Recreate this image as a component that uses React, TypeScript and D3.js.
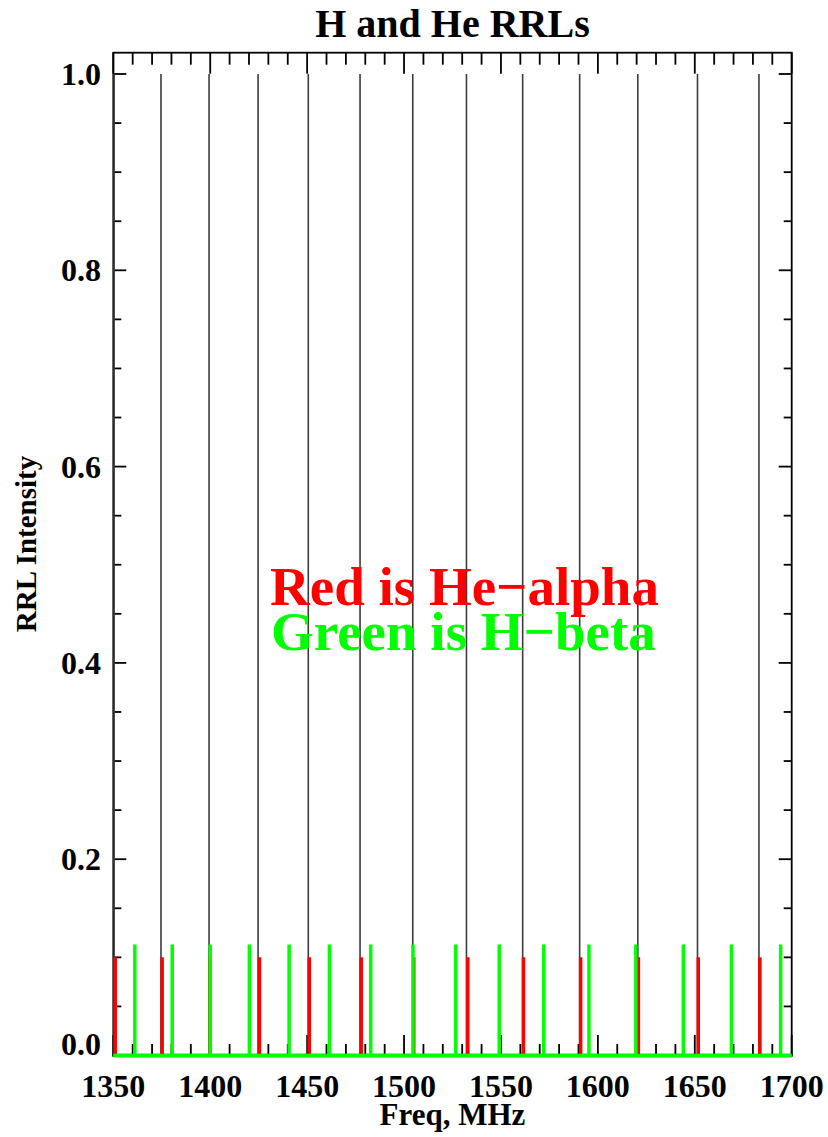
import React from "react";
import * as d3 from "d3";

// Line frequencies (MHz)
const hAlphaFreqs = [1350.4, 1374.6, 1399.4, 1424.7, 1450.6, 1477.3, 1504.5, 1532.2, 1561.2, 1590.6, 1620.6, 1651.4, 1683.1];
const hAlphaIntensity = 1.0;
const heAlphaFreqs = [1351.0, 1375.2, 1400.0, 1425.4, 1451.1, 1477.9, 1505.0, 1532.9, 1561.6, 1591.1, 1620.9, 1651.8, 1683.6];
const heAlphaIntensity = 0.1;
const hBetaFreqs = [1361.1, 1380.4, 1400.0, 1420.2, 1440.7, 1461.5, 1482.8, 1504.6, 1526.7, 1549.1, 1572.1, 1595.4, 1619.6, 1644.1, 1668.9, 1694.3];
const hBetaIntensity = 0.113;

const xMajorTicks = [1350, 1400, 1450, 1500, 1550, 1600, 1650, 1700];
const yMajorTicks = [0.0, 0.2, 0.4, 0.6, 0.8, 1.0];

const W = 828;
const H = 1137;
const left = 113.3;
const right = 791.7;
const top = 52.7;
const bottom = 1056;

const FONT = "'Liberation Serif', 'Times New Roman', serif";

export default function App() {
  const x = d3.scaleLinear().domain([1350, 1700]).range([left, right]);
  const y = d3.scaleLinear().domain([0, 1]).range([1055.5, 74]);

  const xMinor = d3.range(1350, 1700.1, 10).filter((v) => Math.abs(v % 50) > 1e-6);
  const yMinor = d3.range(0, 1.0201, 0.05).filter((v) => yMajorTicks.every((t) => Math.abs(t - v) > 1e-6));

  const spectrum = (freqs: number[], amp: number) => {
    const pts: [number, number][] = [[1350, 0]];
    freqs.forEach((f) => {
      pts.push([f, 0], [f, amp], [f, 0]);
    });
    pts.push([1700, 0]);
    return d3.line<[number, number]>().x((d) => x(d[0])).y((d) => y(d[1]))(pts) || "";
  };

  const axisStroke = 1.8;

  return (
    <svg
      width={W}
      height={H}
      style={{ position: "absolute", left: 0, top: 0, display: "block", background: "#fff" }}
      fontFamily={FONT}
      fontWeight="bold"
    >
      <rect x={0} y={0} width={W} height={H} fill="#fff" />
      {/* Title */}
      <text x={(left + right) / 2} y={37} textAnchor="middle" fontSize={40} fill="#000">
        H and He RRLs
      </text>

      {/* Frame */}
      <rect x={left} y={top} width={right - left} height={bottom - top} fill="none" stroke="#000" strokeWidth={axisStroke} />

      {/* X ticks bottom & top */}
      {xMajorTicks.map((v) => (
        <g key={"xM" + v}>
          <line x1={x(v)} x2={x(v)} y1={bottom} y2={bottom - 21} stroke="#000" strokeWidth={axisStroke} />
          <line x1={x(v)} x2={x(v)} y1={top} y2={top + 21} stroke="#000" strokeWidth={axisStroke} />
          <text x={x(v)} y={1097} textAnchor="middle" fontSize={32} fill="#000">
            {v}
          </text>
        </g>
      ))}
      {xMinor.map((v) => (
        <g key={"xm" + v}>
          <line x1={x(v)} x2={x(v)} y1={bottom} y2={bottom - 12} stroke="#000" strokeWidth={axisStroke} />
          <line x1={x(v)} x2={x(v)} y1={top} y2={top + 12} stroke="#000" strokeWidth={axisStroke} />
        </g>
      ))}

      {/* Y ticks left & right */}
      {yMajorTicks.map((v) => (
        <g key={"yM" + v}>
          <line x1={left} x2={left + 13} y1={y(v)} y2={y(v)} stroke="#000" strokeWidth={axisStroke} />
          <line x1={right} x2={right - 13} y1={y(v)} y2={y(v)} stroke="#000" strokeWidth={axisStroke} />
          <text x={101} y={Math.min(y(v) + 11, 1055)} textAnchor="end" fontSize={32} fill="#000">
            {v.toFixed(1)}
          </text>
        </g>
      ))}
      {yMinor.map((v) => (
        <g key={"ym" + v.toFixed(2)}>
          <line x1={left} x2={left + 8} y1={y(v)} y2={y(v)} stroke="#000" strokeWidth={axisStroke} />
          <line x1={right} x2={right - 8} y1={y(v)} y2={y(v)} stroke="#000" strokeWidth={axisStroke} />
        </g>
      ))}

      {/* Axis titles */}
      <text x={(left + right) / 2} y={1125} textAnchor="middle" fontSize={31} fill="#000">
        Freq, MHz
      </text>
      <text transform={`translate(36, 544) rotate(-90)`} textAnchor="middle" fontSize={29} fill="#000">
        RRL Intensity
      </text>

      {/* Spectra */}
      <path d={spectrum(hAlphaFreqs, hAlphaIntensity)} fill="none" stroke="#3c3c3c" strokeWidth={1.6} />
      <path d={spectrum(heAlphaFreqs, heAlphaIntensity)} fill="none" stroke="#ff0000" strokeWidth={3.5} />
      <path d={spectrum(hBetaFreqs, hBetaIntensity)} fill="none" stroke="#00ff00" strokeWidth={3.5} />

      {/* Legend */}
      <text x={270} y={605} fontSize={55} fill="#ff0000">
        Red is He−alpha
      </text>
      <text x={271} y={650} fontSize={55} fill="#00ff00">
        Green is H−beta
      </text>
    </svg>
  );
}
